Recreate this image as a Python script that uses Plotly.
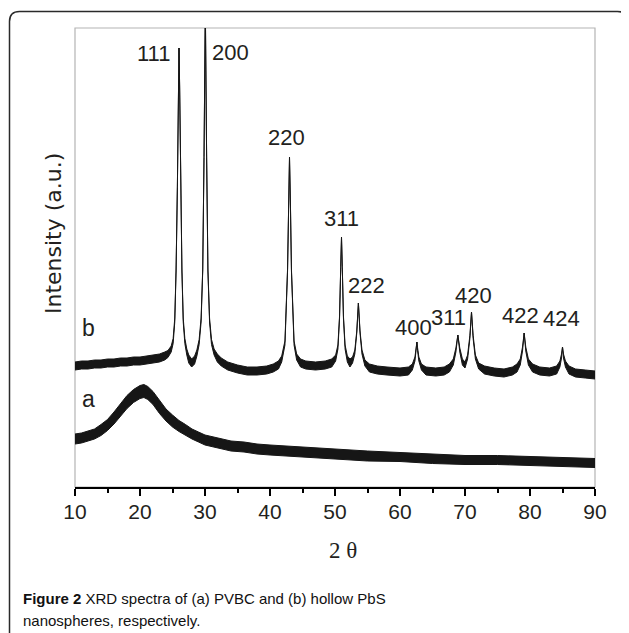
import plotly.graph_objects as go

# ---------------- data ----------------
# (b) hollow PbS nanospheres: 2theta, intensity (a.u.), noise half-band (a.u.)
b_theta = [10.0, 11.0, 12.0, 13.0, 14.0, 15.0, 16.0, 17.0, 18.0, 19.0, 20.0, 21.0, 22.0, 23.0, 23.8,
           24.3, 24.8, 25.1, 25.35, 25.55, 25.75, 25.9, 26.0, 26.1, 26.25, 26.45, 26.65, 26.9, 27.2,
           27.5, 27.95, 28.4, 28.75, 29.1, 29.4, 29.65, 29.85, 30.05, 30.25, 30.45, 30.7, 31.0, 31.4,
           31.9, 32.5, 33.5, 35.0, 36.5, 38.0, 39.5, 40.5, 41.3, 41.8, 42.3, 42.7, 42.85, 43.0, 43.15,
           43.3, 43.7, 44.1, 44.7, 45.5, 47.0, 48.5, 49.5, 50.1, 50.45, 50.7, 50.88, 51.0, 51.12, 51.3,
           51.55, 51.9, 52.3, 52.7, 53.05, 53.35, 53.6, 53.85, 54.15, 54.6, 55.3, 56.5, 58.0, 60.0,
           61.3, 61.9, 62.3, 62.5, 62.6, 62.7, 62.9, 63.3, 64.0, 65.5, 66.8, 67.6, 68.2, 68.6, 68.9,
           69.2, 69.6, 70.0, 70.4, 70.75, 71.0, 71.25, 71.6, 72.1, 73.0, 74.5, 76.0, 77.3, 78.0, 78.5,
           78.85, 79.1, 79.35, 79.75, 80.4, 81.5, 83.0, 84.1, 84.6, 84.85, 85.0, 85.15, 85.45, 86.0,
           87.0, 88.5, 90.0]
b_intensity = [121, 122, 122, 123, 123, 124, 124, 125, 125, 126, 126, 127, 128, 129, 131,
               133, 138, 146, 167, 217, 300, 400, 439, 400, 300, 217, 167, 146, 135,
               128, 124, 127, 134, 145, 167, 217, 330, 480, 330, 217, 167, 145, 135,
               129, 125, 121, 118, 116, 116, 117, 119, 122, 128, 144, 217, 280, 330, 280,
               217, 144, 130, 124, 122, 121, 122, 124, 129, 140, 170, 220, 250, 220, 170,
               140, 128, 124, 127, 135, 155, 184, 155, 135, 124, 119, 117, 116, 115,
               116, 120, 128, 138, 145, 138, 128, 120, 116, 115, 116, 119, 125, 137, 152,
               137, 125, 122, 130, 150, 175, 150, 130, 121, 117, 115, 114, 116, 119, 125,
               138, 154, 138, 125, 119, 116, 115, 117, 123, 131, 140, 131, 123, 117,
               114, 113, 112]
b_noise = [4, 4, 4, 4, 4, 4, 4, 4, 4, 4, 4, 4, 4, 4, 4,
           3.5, 3, 2.5, 2, 1, 0.5, 0, 0, 0, 0.5, 1, 2, 2.5, 3,
           4, 4, 4, 3, 2.5, 2, 1, 0.5, 0, 0.5, 1, 2, 2.5, 3,
           4, 4, 4, 4, 4, 4, 4, 4, 4, 3, 2, 1, 0.5, 0, 0.5,
           1, 2, 3, 4, 4, 4, 4, 4, 3, 2, 1, 0.5, 0, 0.5, 1,
           2, 3, 4, 3, 2, 1, 0, 1, 2, 3, 4, 4, 4, 4,
           4, 3, 2, 1.5, 0, 1.5, 2, 3, 4, 4, 4, 4, 3, 2, 0,
           2, 3, 3, 2, 1.5, 0, 1.5, 2, 3, 4, 4, 4, 4, 4, 3,
           2, 0, 2, 3, 4, 4, 4, 4, 3, 2, 0, 2, 3, 4,
           4, 4, 4]

# (a) PVBC: 2theta, intensity (a.u.), noise half-band (a.u.)
a_theta = [10, 11, 12, 13, 14, 15, 16, 17, 18, 19, 20, 20.6, 21.2, 22, 23, 24, 25, 26, 27, 28, 29,
           30, 32, 34, 36, 38, 40, 43, 46, 50, 55, 60, 65, 70, 75, 80, 85, 90]
a_intensity = [48, 49, 51, 53, 57, 62, 69, 77, 85, 91, 95, 96, 94, 89, 80, 72, 66, 61, 57, 53, 50,
               47, 44, 41, 40, 38, 37, 36, 35, 33, 31, 30, 28, 27, 27, 26, 25, 24]
a_noise = [5, 5, 5, 5, 5.5, 5.5, 6, 6, 6.5, 6.5, 6.5, 6.5, 6.5, 6.5, 6.5, 6, 6, 5.5, 5.5, 5, 5,
           5, 5, 5, 5, 5, 5, 5, 5, 5, 5, 4.5, 4.5, 4.5, 4.5, 4.5, 4.5, 4.5]

# peak (hkl) labels and where they sit (2theta, intensity)
peak_labels = ["111", "200", "220", "311", "222", "400", "311", "420", "422", "424"]
peak_label_theta = [22.0, 33.85, 42.6, 51.0, 54.9, 62.0, 67.4, 71.3, 78.5, 84.9]
peak_label_int = [434, 435, 350, 269, 202, 160, 170, 192, 172, 169]

series_names = ["a", "b"]
series_label_theta = [12.0, 12.0]
series_label_int = [88, 159]

x_ticks = [10, 20, 30, 40, 50, 60, 70, 80, 90]

# ---------------- figure ----------------
OFF = 8                                  # page body margin of the html page
W, H = 629 - OFF, 633 - OFF
L, R, T, B = 75, 595, 28, 487            # plot area in window pixels

INK = "#161616"
TXT = "#231f20"
SANS = "Liberation Sans, Arial, Helvetica, sans-serif"

fig = go.Figure()


def add_band(theta, inten, noise, name):
    lower = [v - n for v, n in zip(inten, noise)]
    upper = [v + n for v, n in zip(inten, noise)]
    fig.add_trace(go.Scatter(x=theta, y=lower, mode="lines", name=name,
                             line=dict(color=INK, width=1), showlegend=False,
                             hoverinfo="skip"))
    fig.add_trace(go.Scatter(x=theta, y=upper, mode="lines", name=name,
                             line=dict(color=INK, width=1), fill="tonexty",
                             fillcolor=INK, showlegend=False))


add_band(a_theta, a_intensity, a_noise, "a")
add_band(b_theta, b_intensity, b_noise, "b")

annotations = []
for lab, xv, yv in zip(peak_labels, peak_label_theta, peak_label_int):
    annotations.append(dict(x=xv, y=yv, xref="x", yref="y", text=lab, showarrow=False,
                            xanchor="center", yanchor="middle",
                            font=dict(family=SANS, size=22, color=TXT)))
for lab, xv, yv in zip(series_names, series_label_theta, series_label_int):
    annotations.append(dict(x=xv, y=yv, xref="x", yref="y", text=lab, showarrow=False,
                            xanchor="center", yanchor="middle",
                            font=dict(family=SANS, size=23, color=TXT)))


def px(xp):
    return (xp - L) / (R - L)


def py(yp):
    return (B - yp) / (B - T)


# y-axis title
annotations.append(dict(x=px(53), y=py(234), xref="paper", yref="paper",
                        text="Intensity (a.u.)", textangle=-90, showarrow=False,
                        xanchor="center", yanchor="middle",
                        font=dict(family="DejaVu Sans, Liberation Sans, Arial, sans-serif",
                                  size=22, color=TXT)))
# x-axis title
annotations.append(dict(x=px(343), y=py(550), xref="paper", yref="paper",
                        text="2 θ", showarrow=False, xanchor="center", yanchor="middle",
                        font=dict(family="Liberation Serif, Times New Roman, serif",
                                  size=23, color=TXT)))
# caption
annotations.append(dict(x=px(21), y=py(598), xref="paper", yref="paper",
                        text="<b>Figure 2</b> XRD spectra of (a) PVBC and (b) hollow PbS",
                        showarrow=False, xanchor="left", yanchor="middle",
                        font=dict(family=SANS, size=15, color="#111111")))
annotations.append(dict(x=px(21), y=py(620), xref="paper", yref="paper",
                        text="nanospheres, respectively.",
                        showarrow=False, xanchor="left", yanchor="middle",
                        font=dict(family=SANS, size=15, color="#111111")))

# outer rounded frame (window-pixel geometry -> paper coordinates)
X0, Y0, X1, Y1, r = 9.5, 11.5, 627.5, 642, 10
path = (f"M {px(X0)},{py(Y1 - r)} L {px(X0)},{py(Y0 + r)} "
        f"Q {px(X0)},{py(Y0)} {px(X0 + r)},{py(Y0)} "
        f"L {px(X1 - r)},{py(Y0)} Q {px(X1)},{py(Y0)} {px(X1)},{py(Y0 + r)} "
        f"L {px(X1)},{py(Y1 - r)} Q {px(X1)},{py(Y1)} {px(X1 - r)},{py(Y1)} "
        f"L {px(X0 + r)},{py(Y1)} Q {px(X0)},{py(Y1)} {px(X0)},{py(Y1 - r)} Z")

shapes = [
    dict(type="rect", xref="paper", yref="paper", x0=0, x1=1, y0=0, y1=1,
         line=dict(color="#b4b4b4", width=1.2), layer="below"),
    dict(type="path", xref="paper", yref="paper", path=path,
         line=dict(color="#2a2a2a", width=1.5)),
]

fig.update_layout(
    width=W, height=H, autosize=False,
    margin=dict(l=L - OFF, r=W - (R - OFF), t=T - OFF, b=H - (B - OFF), pad=0),
    paper_bgcolor="white", plot_bgcolor="white",
    showlegend=False,
    annotations=annotations,
    shapes=shapes,
    xaxis=dict(range=[10, 90], tickvals=x_ticks, ticktext=[str(t) for t in x_ticks],
               ticks="outside", ticklen=7, tickwidth=2, tickcolor="black",
               showline=True, linecolor="black", linewidth=2, showgrid=False,
               zeroline=False, mirror=False, ticklabelstandoff=-2,
               tickfont=dict(family=SANS, size=21, color=TXT),
               minor=dict(dtick=5, tick0=10, ticks="outside", ticklen=4, tickwidth=2,
                          tickcolor="black", showgrid=False)),
    yaxis=dict(range=[0, B - T], visible=False, showgrid=False, zeroline=False),
)

fig.write_html("out.html")
